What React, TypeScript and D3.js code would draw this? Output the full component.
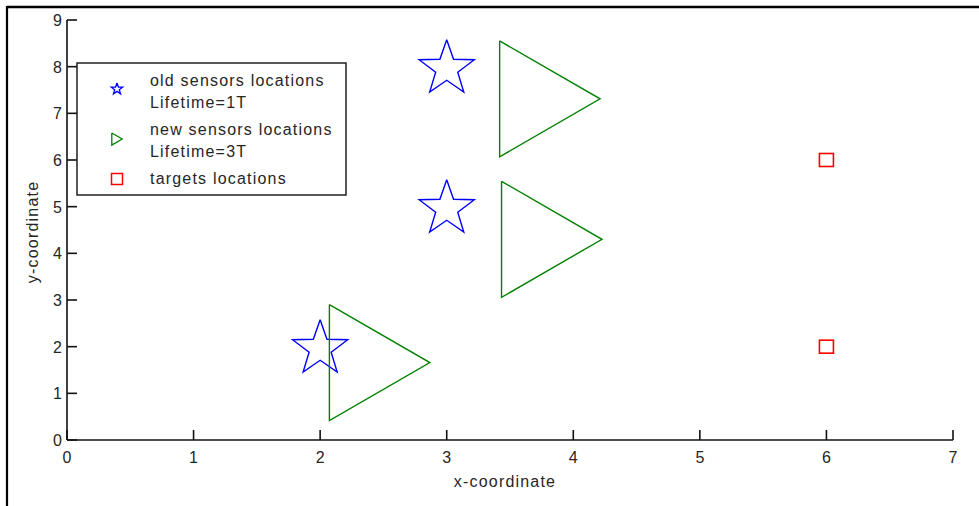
import React from "react";
import * as d3 from "d3";

const oldX = [2, 3, 3];
const oldY = [2, 5, 8];
const newX = [2.47, 3.815, 3.83];
const newY = [1.66, 7.31, 4.3];
const targetX = [6, 6];
const targetY = [2, 6];
const xTicks = [0, 1, 2, 3, 4, 5, 6, 7];
const yTicks = [0, 1, 2, 3, 4, 5, 6, 7, 8, 9];
const legendLabels = [
  ["old sensors locations", "Lifetime=1T"],
  ["new sensors locations", "Lifetime=3T"],
  ["targets locations"],
];

const W = 979;
const H = 506;
const FONT = "'Liberation Sans', Arial, sans-serif";

function starPath(cx: number, cy: number, R: number) {
  const r = R * 0.4;
  const pts: [number, number][] = [];
  for (let i = 0; i < 10; i++) {
    const a = -Math.PI / 2 + (i * Math.PI) / 5;
    const rr = i % 2 === 0 ? R : r;
    pts.push([cx + rr * Math.cos(a), cy + rr * Math.sin(a)]);
  }
  return d3.line()(pts.concat([pts[0]])) as string;
}

function triPath(cx: number, cy: number, h: number) {
  const w = h * 0.866;
  const pts: [number, number][] = [
    [cx - w / 2, cy - h / 2],
    [cx + w / 2, cy],
    [cx - w / 2, cy + h / 2],
    [cx - w / 2, cy - h / 2],
  ];
  return d3.line()(pts) as string;
}

export default function App() {
  const x = d3.scaleLinear().domain([0, 7]).range([67, 953]);
  const y = d3.scaleLinear().domain([0, 9]).range([440, 20]);
  const textStyle = { fontFamily: FONT, fontSize: 16, letterSpacing: 1.2, fill: "#262626" } as const;

  return (
    <svg width={W} height={H} style={{ position: "absolute", left: 0, top: 0, background: "#fff" }}>
      <rect x={0} y={0} width={W} height={H} fill="#fff" />
      {/* frame */}
      <line x1={7} x2={W} y1={7} y2={7} stroke="#000" strokeWidth={2.5} />
      <line x1={7} x2={7} y1={6} y2={H} stroke="#000" strokeWidth={2.2} />

      {/* axes */}
      <line x1={x(0)} x2={x(7)} y1={y(0)} y2={y(0)} stroke="#111" strokeWidth={1.6} />
      <line x1={x(0)} x2={x(0)} y1={y(0)} y2={y(9)} stroke="#111" strokeWidth={1.6} />
      {xTicks.map((t) => (
        <g key={"xt" + t}>
          <line x1={x(t)} x2={x(t)} y1={y(0)} y2={y(0) - 10} stroke="#111" strokeWidth={1.6} />
          <text x={x(t)} y={463} textAnchor="middle" {...textStyle} letterSpacing={0}>
            {t}
          </text>
        </g>
      ))}
      {yTicks.map((t) => (
        <g key={"yt" + t}>
          <line x1={x(0)} x2={x(0) + 10} y1={y(t)} y2={y(t)} stroke="#111" strokeWidth={1.6} />
          <text x={62} y={y(t) + 6} textAnchor="end" {...textStyle} letterSpacing={0}>
            {t}
          </text>
        </g>
      ))}
      <text x={505} y={487} textAnchor="middle" {...textStyle}>
        x-coordinate
      </text>
      <text
        transform={`translate(38,232) rotate(-90)`}
        textAnchor="middle"
        {...textStyle}
      >
        y-coordinate
      </text>

      {/* data markers */}
      {oldX.map((v, i) => (
        <path key={"o" + i} d={starPath(x(v), y(oldY[i]) + 2, 29)} fill="none" stroke="#0000ff" strokeWidth={1.4} strokeLinejoin="miter" />
      ))}
      {newX.map((v, i) => (
        <path key={"n" + i} d={triPath(x(v), y(newY[i]), 116)} fill="none" stroke="#008000" strokeWidth={1.4} />
      ))}
      {targetX.map((v, i) => (
        <rect key={"t" + i} x={x(v) - 7} y={y(targetY[i]) - 6.5} width={14} height={13} fill="none" stroke="#ff0000" strokeWidth={1.6} />
      ))}

      {/* legend */}
      <rect x={77} y={63} width={269} height={132} fill="#fff" stroke="#111" strokeWidth={1.4} />
      <path d={starPath(117, 89, 6)} fill="none" stroke="#0000ff" strokeWidth={1.3} />
      <path d={triPath(117, 139, 12)} fill="none" stroke="#008000" strokeWidth={1.3} />
      <rect x={111.5} y={173.5} width={11} height={11} fill="none" stroke="#ff0000" strokeWidth={1.5} />
      <text x={150} y={86} {...textStyle}>{legendLabels[0][0]}</text>
      <text x={150} y={108} {...textStyle}>{legendLabels[0][1]}</text>
      <text x={150} y={135} {...textStyle}>{legendLabels[1][0]}</text>
      <text x={150} y={157} {...textStyle}>{legendLabels[1][1]}</text>
      <text x={150} y={184} {...textStyle}>{legendLabels[2][0]}</text>
    </svg>
  );
}
